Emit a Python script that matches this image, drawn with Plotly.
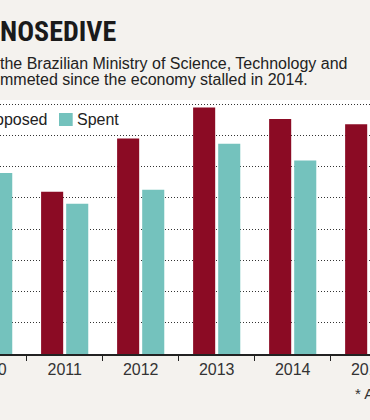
import plotly.graph_objects as go

years = ["2010", "2011", "2012", "2013", "2014", "2015"]
proposed = [6.6, 5.19, 6.90, 7.89, 7.52, 7.35]
spent = [5.79, 4.81, 5.26, 6.73, 6.19, 5.42]
gridvals = [1, 2, 3, 4, 5, 6, 7, 8]
series_names = ["Proposed", "Spent"]

MAROON = "#8B0B24"
TEAL = "#74C2BD"
BG = "#F4F2EE"
TXT = "#222222"
W, H = 370, 420
MT, MB = 100, 66
PH = H - MT - MB
XRANGE = [0.149, 5.017]


def px_x(p):
    return p / W


def px_y(p):
    return (H - MB - p) / PH


fig = go.Figure()
fig.add_trace(go.Bar(x=years, y=proposed, name=series_names[0], marker=dict(color=MAROON, line=dict(width=0))))
fig.add_trace(go.Bar(x=years, y=spent, name=series_names[1], marker=dict(color=TEAL, line=dict(width=0))))

fig.update_layout(
    width=W, height=H,
    margin=dict(l=0, r=0, t=MT, b=MB, pad=0, autoexpand=False),
    paper_bgcolor=BG, plot_bgcolor="white",
    barmode="group", bargap=0.34, bargroupgap=0.12,
    font=dict(family="Liberation Sans, Arial, sans-serif", size=16, color=TXT),
    showlegend=False,
    xaxis=dict(range=XRANGE, tickson="boundaries", ticks="outside", ticklen=5,
               tickcolor="#222", tickwidth=1, showgrid=False, showline=True,
               linecolor="#222", linewidth=1.5, tickfont=dict(size=16, color="#333"),
               fixedrange=True, automargin=False),
    yaxis=dict(range=[0, 8.13], tickvals=gridvals, showticklabels=False, showgrid=True,
               gridcolor="#333", gridwidth=1, griddash="1px,2px", zeroline=False,
               showline=False, ticks="", fixedrange=True, automargin=False),
)

# first year label sits at a category centre left of the visible range
first_center = (0 - XRANGE[0]) / (XRANGE[1] - XRANGE[0])
fig.add_annotation(text=years[0], xref="paper", yref="paper", x=first_center, y=px_y(369),
                   xanchor="center", yanchor="middle", showarrow=False,
                   font=dict(size=16, color="#333"))

# title and subtitle
fig.add_annotation(text="<b>NOSEDIVE</b>", xref="paper", yref="paper", x=px_x(-2), y=px_y(31),
                   xanchor="left", yanchor="middle", showarrow=False,
                   font=dict(family="Roboto Condensed, Liberation Sans Narrow, Roboto, sans-serif", size=28, color="#1a1a1a"))
fig.add_annotation(text="the Brazilian Ministry of Science, Technology and", xref="paper", yref="paper",
                   x=px_x(-2), y=px_y(63), xanchor="left", yanchor="middle", showarrow=False,
                   font=dict(size=16, color=TXT))
fig.add_annotation(text="mmeted since the economy stalled in 2014.", xref="paper", yref="paper",
                   x=px_x(-2), y=px_y(80), xanchor="left", yanchor="middle", showarrow=False,
                   font=dict(size=16, color=TXT))

# legend (drawn as key swatches + labels)
fig.add_shape(type="rect", xref="paper", yref="paper", x0=px_x(-44), x1=px_x(-30.5),
              y0=px_y(126), y1=px_y(113), fillcolor=MAROON, line=dict(width=0))
fig.add_annotation(text=series_names[0], xref="paper", yref="paper", x=px_x(50), y=px_y(119.5),
                   xanchor="right", yanchor="middle", showarrow=False, font=dict(size=16, color=TXT))
fig.add_shape(type="rect", xref="paper", yref="paper", x0=px_x(59), x1=px_x(72.7),
              y0=px_y(126), y1=px_y(113), fillcolor=TEAL, line=dict(width=0))
fig.add_annotation(text=series_names[1], xref="paper", yref="paper", x=px_x(75), y=px_y(119.5),
                   xanchor="left", yanchor="middle", showarrow=False, font=dict(size=16, color=TXT))

fig.add_annotation(text="* A", xref="paper", yref="paper", x=px_x(353), y=px_y(393),
                   xanchor="left", yanchor="middle", showarrow=False,
                   font=dict(size=15, color="#333"))

fig.write_html("out.html", config={"displayModeBar": False, "staticPlot": True},
               post_script="document.body.style.margin='0';document.body.style.overflow='hidden';")
